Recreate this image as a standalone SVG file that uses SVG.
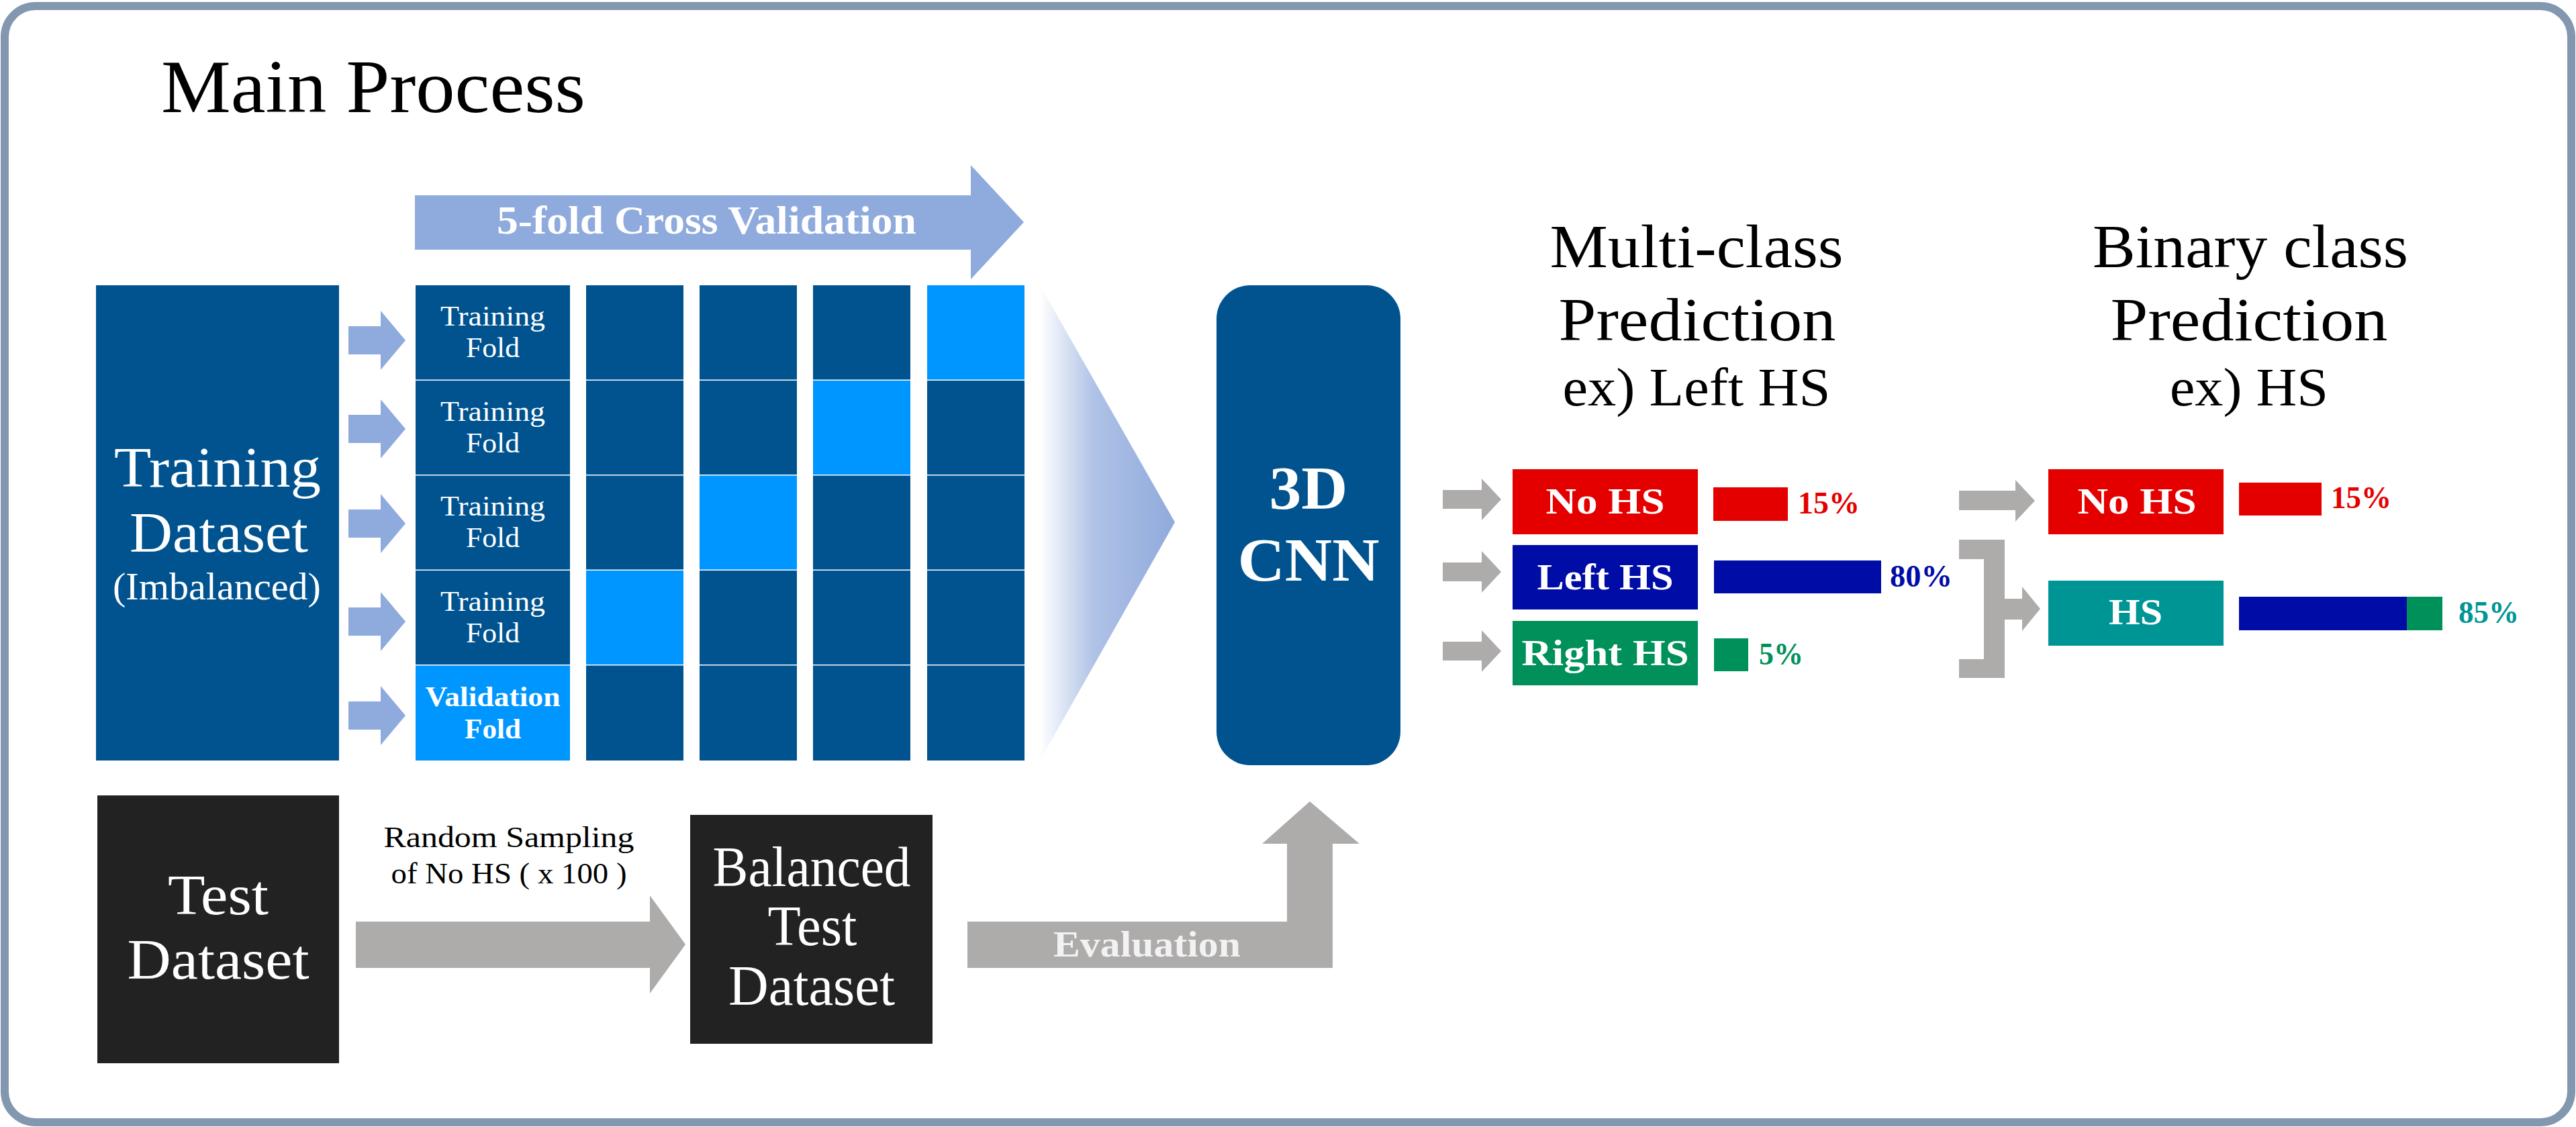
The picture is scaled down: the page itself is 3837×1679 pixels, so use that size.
<svg xmlns="http://www.w3.org/2000/svg" width="3837" height="1679" viewBox="0 0 3837 1679">
<defs>
<linearGradient id="fade" x1="0" y1="0" x2="1" y2="0">
<stop offset="0" stop-color="#FFFFFF"/>
<stop offset="0.4" stop-color="#AFC2E6"/>
<stop offset="1" stop-color="#90AADC"/>
</linearGradient>
<style>
text{font-family:"Palatino Linotype","Book Antiqua","Liberation Serif",serif;}
.w{fill:#FFFFFF;}
.b{font-weight:bold;}
.dark{fill:#00538F;}
.light{fill:#0096FF;}
.blk{fill:#222222;}
.gray{fill:#AEABAB;}
.pale{fill:#8FAADC;}
.red{fill:#E50000;}
.blue{fill:#000CA6;}
.green{fill:#00915A;}
.teal{fill:#009595;}
</style>
</defs>
<rect x="0" y="0" width="3837" height="1679" fill="#FFFFFF"/>
<rect x="7" y="9" width="3823" height="1663" rx="46" ry="46" fill="#FFFFFF" stroke="#8397B0" stroke-width="12"/>

<g id="title">
<text x="240" y="167" font-size="113" textLength="632" lengthAdjust="spacingAndGlyphs">Main Process</text>
</g>

<g id="training-dataset">
<rect class="dark" x="143" y="425" width="362" height="708"/>
<text class="w" x="324" y="725" font-size="84" text-anchor="middle" textLength="308" lengthAdjust="spacingAndGlyphs">Training</text>
<text class="w" x="326" y="822" font-size="84" text-anchor="middle" textLength="266" lengthAdjust="spacingAndGlyphs">Dataset</text>
<text class="w" x="323" y="893" font-size="58" text-anchor="middle" textLength="310" lengthAdjust="spacingAndGlyphs">(Imbalanced)</text>
</g>

<g id="folds">
<rect class="dark" x="619" y="425" width="230" height="140.5"/>
<rect class="dark" x="619" y="567" width="230" height="140"/>
<rect class="dark" x="619" y="708.5" width="230" height="140"/>
<rect class="dark" x="619" y="850" width="230" height="140"/>
<rect class="light" x="619" y="991.5" width="230" height="141.5"/>
<text class="w" x="734" y="485" font-size="42" text-anchor="middle" textLength="156" lengthAdjust="spacingAndGlyphs">Training</text>
<text class="w" x="734" y="532" font-size="42" text-anchor="middle" textLength="80" lengthAdjust="spacingAndGlyphs">Fold</text>
<text class="w" x="734" y="627" font-size="42" text-anchor="middle" textLength="156" lengthAdjust="spacingAndGlyphs">Training</text>
<text class="w" x="734" y="674" font-size="42" text-anchor="middle" textLength="80" lengthAdjust="spacingAndGlyphs">Fold</text>
<text class="w" x="734" y="768" font-size="42" text-anchor="middle" textLength="156" lengthAdjust="spacingAndGlyphs">Training</text>
<text class="w" x="734" y="815" font-size="42" text-anchor="middle" textLength="80" lengthAdjust="spacingAndGlyphs">Fold</text>
<text class="w" x="734" y="910" font-size="42" text-anchor="middle" textLength="156" lengthAdjust="spacingAndGlyphs">Training</text>
<text class="w" x="734" y="957" font-size="42" text-anchor="middle" textLength="80" lengthAdjust="spacingAndGlyphs">Fold</text>
<text class="w b" x="734" y="1052" font-size="42" text-anchor="middle" textLength="201" lengthAdjust="spacingAndGlyphs">Validation</text>
<text class="w b" x="734" y="1100" font-size="42" text-anchor="middle" textLength="84" lengthAdjust="spacingAndGlyphs">Fold</text>
</g>

<g id="fold-grid">
<rect class="dark" x="873" y="425" width="145" height="140.5"/>
<rect class="dark" x="873" y="567" width="145" height="140"/>
<rect class="dark" x="873" y="708.5" width="145" height="140"/>
<rect class="light" x="873" y="850" width="145" height="140"/>
<rect class="dark" x="873" y="991.5" width="145" height="141.5"/>
<rect class="dark" x="1042" y="425" width="145" height="140.5"/>
<rect class="dark" x="1042" y="567" width="145" height="140"/>
<rect class="light" x="1042" y="708.5" width="145" height="140"/>
<rect class="dark" x="1042" y="850" width="145" height="140"/>
<rect class="dark" x="1042" y="991.5" width="145" height="141.5"/>
<rect class="dark" x="1211" y="425" width="145" height="140.5"/>
<rect class="light" x="1211" y="567" width="145" height="140"/>
<rect class="dark" x="1211" y="708.5" width="145" height="140"/>
<rect class="dark" x="1211" y="850" width="145" height="140"/>
<rect class="dark" x="1211" y="991.5" width="145" height="141.5"/>
<rect class="light" x="1381" y="425" width="145" height="140.5"/>
<rect class="dark" x="1381" y="567" width="145" height="140"/>
<rect class="dark" x="1381" y="708.5" width="145" height="140"/>
<rect class="dark" x="1381" y="850" width="145" height="140"/>
<rect class="dark" x="1381" y="991.5" width="145" height="141.5"/>
</g>

<g id="cnn">
<rect class="dark" x="1812" y="425" width="274" height="715" rx="50" ry="50"/>
<text class="w b" x="1949" y="758" font-size="92" text-anchor="middle" textLength="117" lengthAdjust="spacingAndGlyphs">3D</text>
<text class="w b" x="1949" y="865" font-size="92" text-anchor="middle" textLength="211" lengthAdjust="spacingAndGlyphs">CNN</text>
</g>

<g id="multi-class-title">
<text x="2527" y="398" font-size="92" text-anchor="middle" textLength="437" lengthAdjust="spacingAndGlyphs">Multi-class</text>
<text x="2528" y="507" font-size="92" text-anchor="middle" textLength="413" lengthAdjust="spacingAndGlyphs">Prediction</text>
<text x="2527" y="604" font-size="80" text-anchor="middle" textLength="399" lengthAdjust="spacingAndGlyphs">ex) Left HS</text>
</g>

<g id="binary-class-title">
<text x="3352" y="398" font-size="92" text-anchor="middle" textLength="470" lengthAdjust="spacingAndGlyphs">Binary class</text>
<text x="3350" y="507" font-size="92" text-anchor="middle" textLength="413" lengthAdjust="spacingAndGlyphs">Prediction</text>
<text x="3350" y="604" font-size="80" text-anchor="middle" textLength="236" lengthAdjust="spacingAndGlyphs">ex) HS</text>
</g>

<g id="multi-no-hs">
<rect class="red" x="2253" y="699" width="276" height="97"/>
<text class="w b" x="2391" y="765" font-size="54" text-anchor="middle" textLength="177" lengthAdjust="spacingAndGlyphs">No HS</text>
<rect class="red" x="2552" y="726" width="111" height="50"/>
<text class="b" fill="#E50000" x="2678" y="765" font-size="46" textLength="92" lengthAdjust="spacingAndGlyphs">15%</text>
</g>

<g id="multi-left-hs">
<rect class="blue" x="2253" y="812" width="276" height="96"/>
<text class="w b" x="2391" y="878" font-size="54" text-anchor="middle" textLength="203" lengthAdjust="spacingAndGlyphs">Left HS</text>
<rect class="blue" x="2553" y="835" width="249" height="49"/>
<text class="b" fill="#000CA6" x="2815" y="874" font-size="46" textLength="93" lengthAdjust="spacingAndGlyphs">80%</text>
</g>

<g id="multi-right-hs">
<rect class="green" x="2253" y="925" width="276" height="96"/>
<text class="w b" x="2391" y="991" font-size="54" text-anchor="middle" textLength="249" lengthAdjust="spacingAndGlyphs">Right HS</text>
<rect class="green" x="2553" y="951" width="51" height="49"/>
<text class="b" fill="#00915A" x="2620" y="990" font-size="46" textLength="66" lengthAdjust="spacingAndGlyphs">5%</text>
</g>

<g id="binary-no-hs">
<rect class="red" x="3051" y="699" width="261" height="97"/>
<text class="w b" x="3183" y="765" font-size="54" text-anchor="middle" textLength="177" lengthAdjust="spacingAndGlyphs">No HS</text>
<rect class="red" x="3335" y="719" width="123" height="49"/>
<text class="b" fill="#E50000" x="3472" y="757" font-size="46" textLength="90" lengthAdjust="spacingAndGlyphs">15%</text>
</g>

<g id="binary-hs">
<rect class="teal" x="3051" y="865" width="261" height="97"/>
<text class="w b" x="3181" y="930" font-size="54" text-anchor="middle" textLength="80" lengthAdjust="spacingAndGlyphs">HS</text>
<rect class="blue" x="3335" y="889" width="251" height="50"/>
<rect class="green" x="3585" y="889" width="53" height="50"/>
<text class="b" fill="#009595" x="3662" y="928" font-size="46" textLength="90" lengthAdjust="spacingAndGlyphs">85%</text>
</g>

<g id="test-dataset">
<rect class="blk" x="145" y="1185" width="360" height="399"/>
<text class="w" x="325" y="1362" font-size="84" text-anchor="middle" textLength="150" lengthAdjust="spacingAndGlyphs">Test</text>
<text class="w" x="325" y="1458" font-size="84" text-anchor="middle" textLength="271" lengthAdjust="spacingAndGlyphs">Dataset</text>
</g>

<g id="balanced-test-dataset">
<rect class="blk" x="1028" y="1214" width="361" height="341"/>
<text class="w" x="1209" y="1320" font-size="84" text-anchor="middle" textLength="295" lengthAdjust="spacingAndGlyphs">Balanced</text>
<text class="w" x="1210" y="1408" font-size="84" text-anchor="middle" textLength="133" lengthAdjust="spacingAndGlyphs">Test</text>
<text class="w" x="1209" y="1497" font-size="84" text-anchor="middle" textLength="248" lengthAdjust="spacingAndGlyphs">Dataset</text>
</g>

<g id="connectors">
<polygon class="pale" points="618,291 1446,291 1446,246 1525,331 1446,416 1446,372 618,372"/>
<text class="w b" x="740" y="348" font-size="60" textLength="625" lengthAdjust="spacingAndGlyphs">5-fold Cross Validation</text>
<polygon class="pale" points="519,486 567,486 567,463 604,507 567,551 567,528 519,528"/>
<polygon class="pale" points="519,618 567,618 567,595 604,639 567,683 567,660 519,660"/>
<polygon class="pale" points="519,759 567,759 567,736 604,780 567,824 567,801 519,801"/>
<polygon class="pale" points="519,905 567,905 567,882 604,926 567,970 567,947 519,947"/>
<polygon class="pale" points="519,1045 567,1045 567,1022 604,1066 567,1110 567,1087 519,1087"/>
<polygon fill="url(#fade)" points="1549,425 1750,778 1549,1133"/>
<polygon class="gray" points="2149,730 2207,730 2207,713 2236,744 2207,775 2207,758 2149,758"/>
<polygon class="gray" points="2149,838 2207,838 2207,821 2236,852 2207,883 2207,866 2149,866"/>
<polygon class="gray" points="2149,956 2207,956 2207,939 2236,970 2207,1001 2207,984 2149,984"/>
<polygon class="gray" points="2918,731 3002,731 3002,715 3031,746 3002,777 3002,760 2918,760"/>
<polygon class="gray" points="2918,804 2986,804 2986,892 3012,892 3012,874 3039,907 3012,940 3012,923 2986,923 2986,1010 2918,1010 2918,982 2955,982 2955,833 2918,833"/>
<polygon class="gray" points="530,1373 968,1373 968,1334 1021,1407 968,1480 968,1442 530,1442"/>
<text x="758" y="1262" font-size="44" text-anchor="middle" textLength="373" lengthAdjust="spacingAndGlyphs">Random Sampling</text>
<text x="758" y="1316" font-size="44" text-anchor="middle" textLength="351" lengthAdjust="spacingAndGlyphs">of No HS ( x 100 )</text>
<polygon class="gray" points="1441,1373 1917,1373 1917,1257 1880,1257 1951,1194 2025,1257 1985,1257 1985,1442 1441,1442"/>
<text class="b" fill="#F2F2F2" x="1569" y="1425" font-size="54" textLength="279" lengthAdjust="spacingAndGlyphs">Evaluation</text>
</g>
</svg>
